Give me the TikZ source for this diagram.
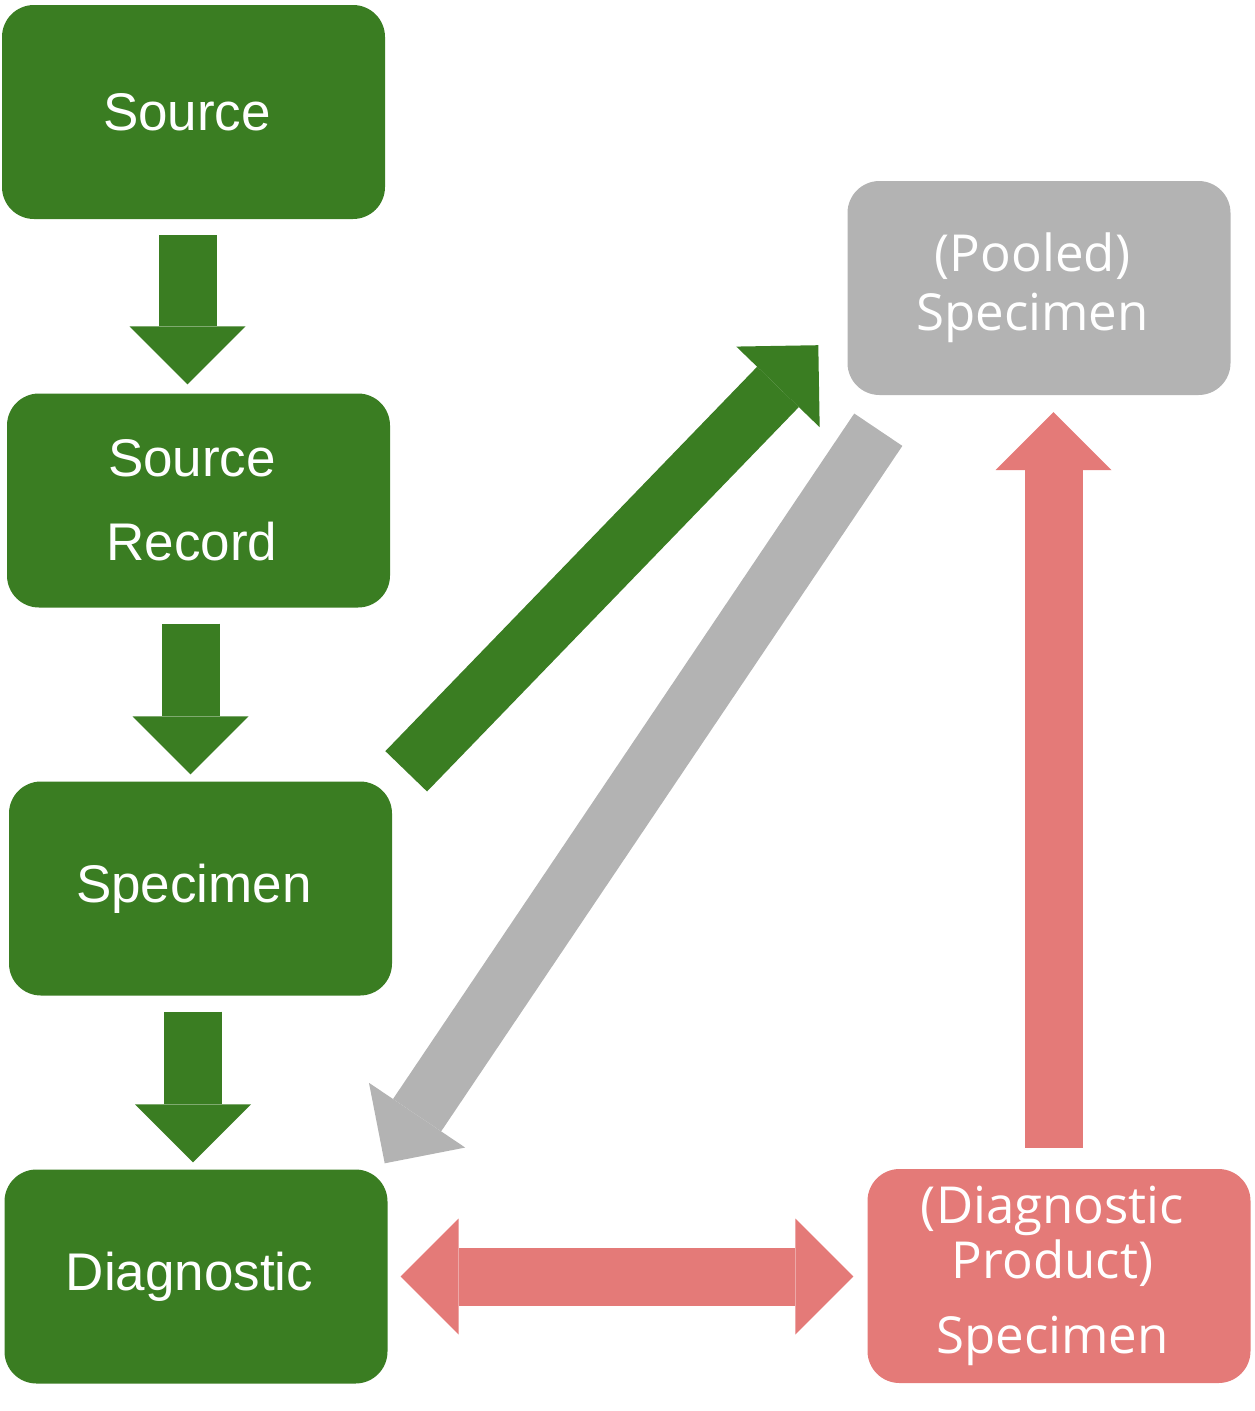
\documentclass[tikz,border=0pt]{standalone}
\usepackage{fontspec}
\usepackage{xcolor}
\usepackage{tikz}
\usetikzlibrary{arrows.meta}
\newfontfamily\boxfont{Liberation Sans}
\newfontfamily\sidefont{Open Sans}
\definecolor{leafgreen}{HTML}{3A7D22}
\definecolor{poolgray}{HTML}{B3B3B3}
\definecolor{prodpink}{HTML}{E47A78}

\begin{document}
\begin{tikzpicture}[
    x=1pt, y=-1pt,
    box/.style={rounded corners=32pt, text width=383pt, align=center, minimum height=214pt, inner sep=0pt, text=white,
        execute at begin node={\leftskip=0pt plus 1fil\rightskip=13pt plus 1fil\parfillskip=0pt}},
    mainbox/.style={box, fill=leafgreen, font=\boxfont\fontsize{53}{84}\selectfont},
    sidebox/.style={box, font=\sidefont\fontsize{51}{#1}\selectfont},
    fatarrow/.style={line width=58pt, -{Triangle[length=58pt, width=116pt, line width=0pt]}},
    twoway/.style={line width=58pt, {Triangle[length=58pt, width=116pt, line width=0pt]}-{Triangle[length=58pt, width=116pt, line width=0pt]}}
]
\useasboundingbox (0,0) rectangle (1255,1411);
% left column
\node[mainbox] (src) at (193.5,112) {Source};
\node[mainbox] (rec) at (198.5,500.5) {Source\\Record};
\node[mainbox] (spec) at (200.5,888.5) {Specimen};
\node[mainbox] (diag) at (196,1276.5) {Diagnostic};
% right column
\node[sidebox=59, fill=poolgray] (pool) at (1039,288) {(Pooled)\\Specimen};
\node[sidebox=55, fill=prodpink] (prod) at (1059,1276) {(Diagnostic\\Product)\\[20pt]Specimen};
\draw[fatarrow, leafgreen, shorten <=16pt, shorten >=9pt] ([xshift=-6pt]src.south) -- ([xshift=-11pt]rec.north);
\draw[fatarrow, leafgreen, shorten <=16pt, shorten >=7pt] ([xshift=-8pt]rec.south) -- ([xshift=-10pt]spec.north);
\draw[fatarrow, leafgreen, shorten <=16pt, shorten >=7pt] ([xshift=-7.5pt]spec.south) -- ([xshift=-3pt]diag.north);
\draw[fatarrow, leafgreen] ([shift={(14,-10)}]spec.north east) -- ([shift={(-29,-50)}]pool.south west);
\draw[fatarrow, poolgray] ([shift={(31,34.5)}]pool.south west) -- ([shift={(-3,-6)}]diag.north east);
\draw[fatarrow, prodpink, shorten <=21pt, shorten >=17pt] ([xshift=-5.5pt]prod.north) -- ([xshift=14.5pt]pool.south);
\draw[twoway, prodpink, shorten <=13pt, shorten >=14pt] (diag.east) -- (diag.east -| prod.west);
\end{tikzpicture}
\end{document}
